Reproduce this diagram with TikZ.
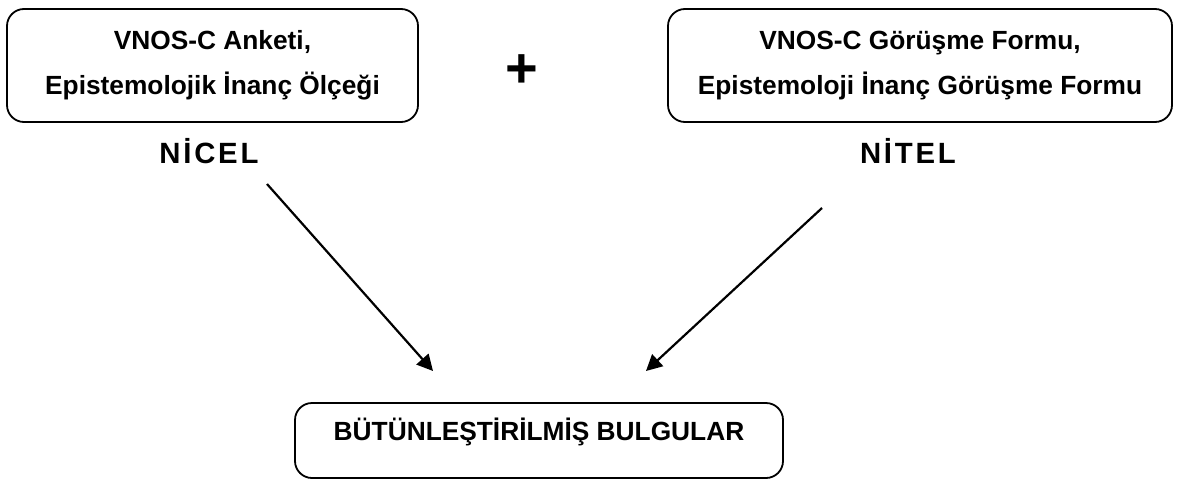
\documentclass[tikz,border=0pt]{standalone}
\usepackage{fontspec}
\setmainfont{Liberation Sans}
\usetikzlibrary{arrows.meta}
\begin{document}
\begin{tikzpicture}[x=1pt,y=-1pt,
  box/.style={draw=black, line width=1.8pt, rounded corners=17pt, inner sep=0pt, align=center,
    font=\fontsize{26.3}{45}\selectfont\bfseries},
  tag/.style={font=\fontsize{29.3}{35}\selectfont\bfseries\addfontfeature{LetterSpace=9.5},
    inner sep=0pt, anchor=base},
  conn/.style={line width=2.2pt, -{Triangle[length=16pt,width=16pt]}}]
\useasboundingbox (0,0) rectangle (1183,479);
\node[box, minimum width=411pt, minimum height=113pt] (left) at (212.5,65.5)
  {VNOS-C Anketi,\\Epistemolojik İnanç Ölçeği};
\node[box, minimum width=504pt, minimum height=113pt] (right) at (920,65.5)
  {VNOS-C Görüşme Formu,\\Epistemoloji İnanç Görüşme Formu};
\node[box, minimum width=488pt, minimum height=75pt, text height=20pt, text depth=21pt] (result) at (539,440.5)
  {BÜTÜNLEŞTİRİLMİŞ BULGULAR};
\node[font=\fontsize{56}{60}\selectfont\bfseries, inner sep=0pt, anchor=base] (plus) at (522,87) {+};
\node[tag] (nicel) at (208.9,163) {NİCEL};
\node[tag] (nitel) at (907.9,163) {NİTEL};
\coordinate (s1) at (267,184);
\coordinate (e1) at (433,371);
\coordinate (s2) at (822,208);
\coordinate (e2) at (646,371);
\draw[conn] (s1) -- (e1);
\draw[conn] (s2) -- (e2);
\end{tikzpicture}
\end{document}
